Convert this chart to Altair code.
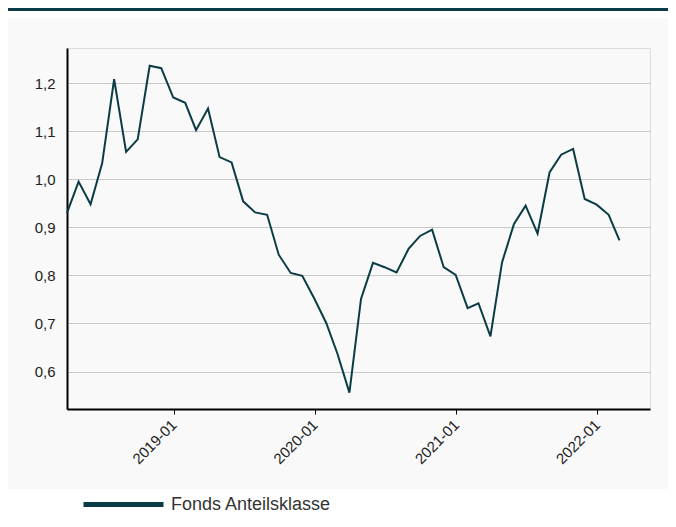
import altair as alt
import pandas as pd

# ---- data ----
dates = [
    "2018-03-31", "2018-04-30", "2018-05-31", "2018-06-30", "2018-07-31", "2018-08-31",
    "2018-09-30", "2018-10-31", "2018-11-30", "2018-12-31",
    "2019-01-31", "2019-02-28", "2019-03-31", "2019-04-30", "2019-05-31", "2019-06-30",
    "2019-07-31", "2019-08-31", "2019-09-30", "2019-10-31", "2019-11-30", "2019-12-31",
    "2020-01-31", "2020-02-29", "2020-03-31", "2020-04-30", "2020-05-31", "2020-06-30",
    "2020-07-31", "2020-08-31", "2020-09-30", "2020-10-31", "2020-11-30", "2020-12-31",
    "2021-01-31", "2021-02-28", "2021-03-31", "2021-04-30", "2021-05-31", "2021-06-30",
    "2021-07-31", "2021-08-31", "2021-09-30", "2021-10-31", "2021-11-30", "2021-12-31",
    "2022-01-31", "2022-02-28",
]
values = [
    0.930, 0.995, 0.948, 1.033, 1.208, 1.057, 1.083, 1.236, 1.231, 1.170,
    1.159, 1.102, 1.147, 1.046, 1.035, 0.954, 0.931, 0.926, 0.843, 0.805,
    0.799, 0.752, 0.701, 0.637, 0.556, 0.751, 0.826, 0.817, 0.806, 0.855,
    0.882, 0.895, 0.817, 0.801, 0.732, 0.742, 0.673, 0.827, 0.907, 0.945,
    0.887, 1.014, 1.051, 1.063, 0.959, 0.947, 0.926, 0.873,
]
series_name = "Fonds Anteilsklasse"
y_ticks = [0.6, 0.7, 0.8, 0.9, 1.0, 1.1, 1.2]

df = pd.DataFrame({"date": dates, "value": values, "series": [series_name] * len(values)})
deco = pd.DataFrame({"k": [0]})

TEAL = "#0b3c45"
FONT = "Liberation Sans"
W, H = 583, 361
PAD = {"left": 59, "top": 40, "right": 18, "bottom": 106}

line = alt.Chart(df).mark_line(strokeWidth=2).encode(
    x=alt.X(
        "date:T",
        scale=alt.Scale(
            type="utc",
            domain=[alt.DateTime(year=2018, month=3, date=31, utc=True),
                    alt.DateTime(year=2022, month=5, date=18, utc=True)],
        ),
        axis=alt.Axis(
            title=None, format="%Y-%m", tickCount={"interval": "year", "step": 1},
            grid=False, domainColor="black", domainWidth=2,
            tickColor="black", tickSize=5, tickWidth=1,
            labelAngle=-45, labelAlign="right", labelBaseline="middle",
            labelFontSize=15, labelColor="#222", labelPadding=8, labelFont=FONT,
        ),
    ),
    y=alt.Y(
        "value:Q",
        scale=alt.Scale(domain=[0.522, 1.273], nice=False, zero=False),
        axis=alt.Axis(
            title=None, values=y_ticks,
            labelExpr="replace(format(datum.value, '.1f'), '.', ',')",
            ticks=False, domainColor="black", domainWidth=2,
            gridColor="#c8c8c8", gridWidth=1,
            labelFontSize=15, labelColor="#222", labelPadding=12, labelFont=FONT,
        ),
    ),
    color=alt.Color(
        "series:N",
        scale=alt.Scale(range=[TEAL]),
        legend=alt.Legend(
            orient="none", legendX=14, legendY=414, title=None,
            symbolType="stroke", symbolSize=6400, symbolStrokeWidth=5,
            labelFontSize=18, labelColor="#333", labelOffset=5, labelLimit=400,
            labelFont=FONT, padding=0, zindex=1,
        ),
    ),
)

white_top = alt.Chart(deco).mark_rect(color="white").encode(
    x=alt.value(-PAD["left"]), x2=alt.value(W + PAD["right"]),
    y=alt.value(-PAD["top"]), y2=alt.value(-30),
)
top_line = alt.Chart(deco).mark_rect(color=TEAL).encode(
    x=alt.value(-PAD["left"]), x2=alt.value(W + PAD["right"]),
    y=alt.value(-PAD["top"]), y2=alt.value(-PAD["top"] + 3),
)
white_bottom = alt.Chart(deco).mark_rect(color="white").encode(
    x=alt.value(-PAD["left"]), x2=alt.value(W + PAD["right"]),
    y=alt.value(441), y2=alt.value(H + PAD["bottom"]),
)

chart = alt.layer(white_top, top_line, white_bottom, line).properties(
    width=W, height=H, padding=PAD, background="#f9f9f9",
    autosize=alt.AutoSizeParams(type="none"),
).configure_view(stroke=None).configure(font=FONT)

chart.save("out.html", embed_options={"renderer": "svg", "actions": False})
